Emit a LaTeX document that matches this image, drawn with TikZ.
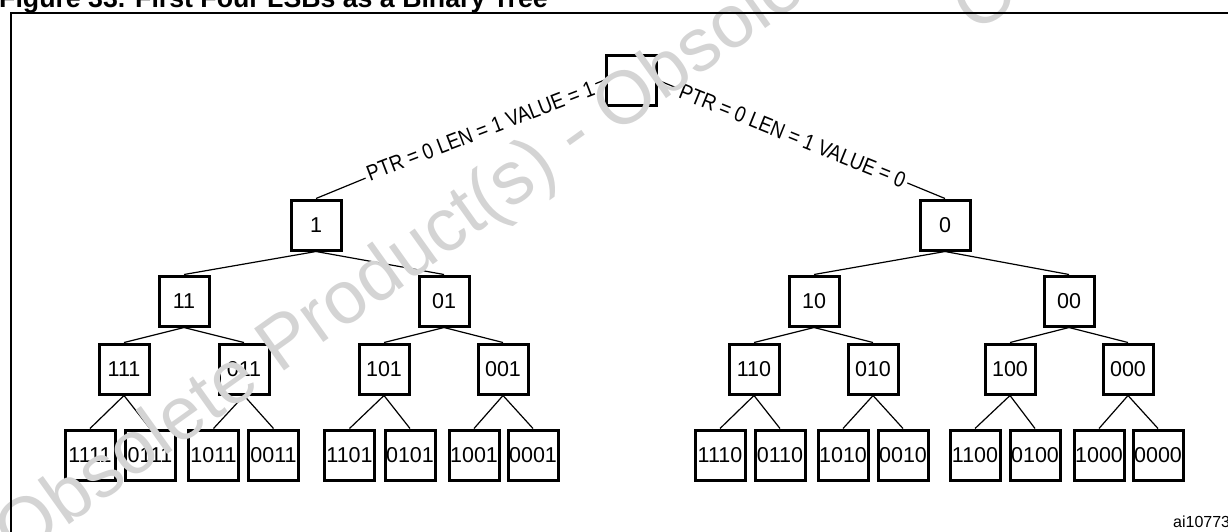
\documentclass[tikz,border=0pt]{standalone}
\usepackage{fontspec}
\setmainfont{Liberation Sans}
\newfontfamily\narrowfont[FakeStretch=0.86]{Liberation Sans}
\begin{document}
\begin{tikzpicture}[x=1pt,y=-1pt,
  bx/.style={draw, line width=3pt, minimum width=50pt, minimum height=50pt, inner sep=0pt, font=\fontsize{21.5}{24}\selectfont},
  edge/.style={line width=1.2pt},
  elabel/.style={fill=white, inner sep=3pt, font=\narrowfont\fontsize{22}{25}\selectfont},
  wm/.style={text=black!17, font=\fontsize{75}{78}\selectfont, anchor=base west, rotate=35.5, inner sep=0pt}
]
\useasboundingbox (0,0) rectangle (1228,531);
\node[anchor=base west, inner sep=0pt, font=\bfseries\fontsize{26.7}{30}\selectfont] (title) at (-1,7) {Figure 33. First Four LSBs as a Binary Tree};
% level 0
\node[bx] (r) at (631,80) {};
% level 1
\node[bx] (n1) at (316,225) {1};
\node[bx] (n0) at (945,225) {0};
% level 2
\node[bx] (n11) at (184,301) {11};
\node[bx] (n01) at (444,301) {01};
\node[bx] (n10) at (814,301) {10};
\node[bx] (n00) at (1069,301) {00};
% level 3
\node[bx] (n111) at (124,369) {111};
\node[bx] (n011) at (244,369) {011};
\node[bx] (n101) at (384,369) {101};
\node[bx] (n001) at (503,369) {001};
\node[bx] (n110) at (754,369) {110};
\node[bx] (n010) at (873,369) {010};
\node[bx] (n100) at (1010,369) {100};
\node[bx] (n000) at (1128,369) {000};
% level 4
\node[bx] (n1111) at (90,455) {1111};
\node[bx] (n0111) at (150,455) {0111};
\node[bx] (n1011) at (213.5,455) {1011};
\node[bx] (n0011) at (273.5,455) {0011};
\node[bx] (n1101) at (349.5,455) {1101};
\node[bx] (n0101) at (410,455) {0101};
\node[bx] (n1001) at (474,455) {1001};
\node[bx] (n0001) at (533,455) {0001};
\node[bx] (n1110) at (720,455) {1110};
\node[bx] (n0110) at (780,455) {0110};
\node[bx] (n1010) at (843,455) {1010};
\node[bx] (n0010) at (903,455) {0010};
\node[bx] (n1100) at (975,455) {1100};
\node[bx] (n0100) at (1035,455) {0100};
\node[bx] (n1000) at (1099,455) {1000};
\node[bx] (n0000) at (1158,455) {0000};
% labelled edges
\draw[edge] (r.west) -- node[elabel, pos=0.43, rotate=21] (lab1) {PTR = 0 LEN = 1 VALUE = 1} (n1.north);
\draw[edge] (r.east) -- node[elabel, pos=0.47, rotate=-22] (lab0) {PTR = 0 LEN = 1 VALUE = 0} (n0.north);
% plain edges
\foreach \p/\c in {n1/n11, n1/n01, n0/n10, n0/n00,
  n11/n111, n11/n011, n01/n101, n01/n001, n10/n110, n10/n010, n00/n100, n00/n000,
  n111/n1111, n111/n0111, n011/n1011, n011/n0011, n101/n1101, n101/n0101, n001/n1001, n001/n0001,
  n110/n1110, n110/n0110, n010/n1010, n010/n0010, n100/n1100, n100/n0100, n000/n1000, n000/n0000}
  \draw[edge] (\p.south) -- (\c.north);
% watermark
\node[wm] (wm1) at (17.8,561.4) {Obsolete Product(s) - Obsolete Product(s)};
\node[wm] (wm2) at (975,35) {Obsolete Product(s) - Obsolete Product(s)};
% frame
\draw[line width=2pt] (11,13) rectangle (1240,545);
\node[anchor=base west, inner sep=0pt, font=\fontsize{16}{18}\selectfont] (id) at (1173,527) {ai10773};
\end{tikzpicture}
\end{document}
